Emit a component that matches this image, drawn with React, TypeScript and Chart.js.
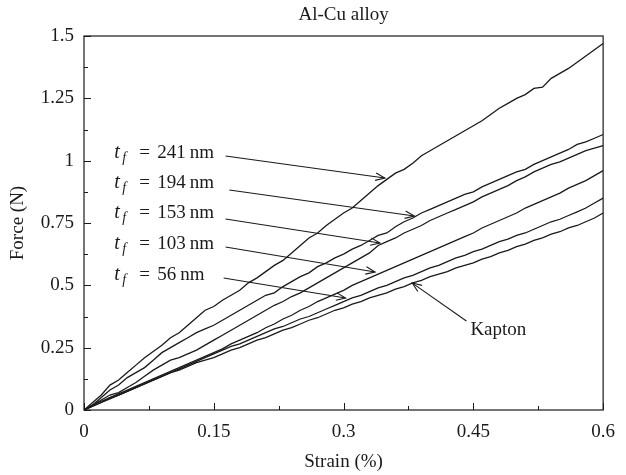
import React, { useEffect, useRef } from 'react';
import { Chart, registerables } from 'chart.js';

Chart.register(...registerables);

const FONT = "'Liberation Serif', 'Times New Roman', serif";
const INK = '#1a1a1a';

// Strain (%) sample positions
const strain = [
  0, 0.01, 0.02, 0.03, 0.04, 0.05, 0.06, 0.07, 0.08, 0.09,
  0.1, 0.11, 0.12, 0.13, 0.14, 0.15, 0.16, 0.17, 0.18, 0.19,
  0.2, 0.21, 0.22, 0.23, 0.24, 0.25, 0.26, 0.27, 0.28, 0.29,
  0.3, 0.31, 0.32, 0.33, 0.34, 0.35, 0.36, 0.37, 0.38, 0.39,
  0.4, 0.41, 0.42, 0.43, 0.44, 0.45, 0.46, 0.47, 0.48, 0.49,
  0.5, 0.51, 0.52, 0.53, 0.54, 0.55, 0.56, 0.57, 0.58, 0.59,
  0.6,
];

// Force (N) for each film thickness
const force241 = [
  0, 0.03, 0.06, 0.1, 0.12, 0.15, 0.18, 0.21, 0.235, 0.26,
  0.29, 0.31, 0.34, 0.37, 0.4, 0.415, 0.44, 0.46, 0.48, 0.51,
  0.53, 0.555, 0.58, 0.6, 0.63, 0.66, 0.69, 0.71, 0.74, 0.765,
  0.79, 0.81, 0.84, 0.87, 0.9, 0.925, 0.95, 0.965, 0.99, 1.02,
  1.04, 1.06, 1.08, 1.1, 1.12, 1.14, 1.16, 1.185, 1.21, 1.23,
  1.25, 1.265, 1.29, 1.295, 1.33, 1.35, 1.37, 1.395, 1.42, 1.445,
  1.47,
];
const force194 = [
  0, 0.02, 0.05, 0.08, 0.1, 0.13, 0.15, 0.17, 0.2, 0.23,
  0.25, 0.27, 0.29, 0.31, 0.325, 0.34, 0.36, 0.38, 0.4, 0.42,
  0.44, 0.46, 0.47, 0.495, 0.515, 0.535, 0.55, 0.575, 0.59, 0.61,
  0.625, 0.645, 0.66, 0.68, 0.7, 0.71, 0.735, 0.755, 0.77, 0.79,
  0.805, 0.82, 0.835, 0.85, 0.865, 0.875, 0.895, 0.91, 0.925, 0.94,
  0.955, 0.965, 0.985, 1.0, 1.015, 1.03, 1.045, 1.065, 1.075, 1.09,
  1.105,
];
const force153 = [
  0, 0.02, 0.04, 0.06, 0.07, 0.09, 0.11, 0.135, 0.16, 0.18,
  0.2, 0.21, 0.225, 0.24, 0.26, 0.28, 0.3, 0.32, 0.34, 0.36,
  0.38, 0.4, 0.42, 0.435, 0.455, 0.47, 0.49, 0.51, 0.53, 0.55,
  0.57, 0.59, 0.61, 0.63, 0.66, 0.675, 0.69, 0.71, 0.725, 0.74,
  0.76, 0.775, 0.79, 0.805, 0.82, 0.835, 0.855, 0.87, 0.885, 0.9,
  0.92, 0.935, 0.955, 0.97, 0.985, 0.995, 1.01, 1.025, 1.04, 1.05,
  1.06,
];
const force103 = [
  0, 0.015, 0.03, 0.05, 0.065, 0.08, 0.095, 0.11, 0.125, 0.14,
  0.155, 0.17, 0.185, 0.2, 0.215, 0.23, 0.245, 0.265, 0.28, 0.295,
  0.31, 0.33, 0.345, 0.365, 0.38, 0.4, 0.415, 0.435, 0.45, 0.465,
  0.48, 0.5, 0.515, 0.53, 0.545, 0.56, 0.575, 0.59, 0.605, 0.62,
  0.635, 0.65, 0.665, 0.68, 0.695, 0.71, 0.73, 0.745, 0.76, 0.775,
  0.79, 0.81, 0.825, 0.84, 0.855, 0.87, 0.89, 0.905, 0.92, 0.94,
  0.96,
];
const force56 = [
  0, 0.02, 0.035, 0.05, 0.06, 0.075, 0.09, 0.105, 0.12, 0.135,
  0.15, 0.165, 0.18, 0.195, 0.21, 0.225, 0.24, 0.255, 0.265, 0.28,
  0.295, 0.31, 0.325, 0.335, 0.35, 0.365, 0.375, 0.39, 0.405, 0.42,
  0.435, 0.45, 0.46, 0.475, 0.49, 0.5, 0.515, 0.53, 0.54, 0.555,
  0.57, 0.58, 0.595, 0.61, 0.62, 0.635, 0.645, 0.66, 0.675, 0.685,
  0.7, 0.71, 0.725, 0.74, 0.755, 0.765, 0.78, 0.795, 0.81, 0.83,
  0.85,
];
const forceKapton = [
  0, 0.015, 0.03, 0.045, 0.06, 0.075, 0.09, 0.105, 0.12, 0.135,
  0.15, 0.16, 0.175, 0.19, 0.2, 0.21, 0.225, 0.24, 0.25, 0.265,
  0.28, 0.29, 0.305, 0.32, 0.33, 0.345, 0.36, 0.37, 0.385, 0.4,
  0.41, 0.425, 0.435, 0.45, 0.46, 0.47, 0.485, 0.495, 0.51, 0.52,
  0.535, 0.545, 0.555, 0.57, 0.58, 0.59, 0.605, 0.615, 0.63, 0.64,
  0.655, 0.665, 0.68, 0.69, 0.705, 0.715, 0.73, 0.74, 0.755, 0.77,
  0.79,
];

const seriesNames = ['241 nm', '194 nm', '153 nm', '103 nm', '56 nm', 'Kapton'];
const seriesValues = [force241, force194, force153, force103, force56, forceKapton];

// Axis ticks
const xTicks = [0, 0.15, 0.3, 0.45, 0.6];
const xMinorTicks = [0.075, 0.225, 0.375, 0.525];
const yTicks = [0, 0.25, 0.5, 0.75, 1, 1.25, 1.5];
const yMinorTicks = [0.125, 0.375, 0.625, 0.875, 1.125, 1.375];

// Annotation labels (in data units: strain, force)
const tfNumbers = ['241', '194', '153', '103', '56'];
const tfLabelAt = [
  [0.035, 1.031],
  [0.035, 0.911],
  [0.035, 0.79],
  [0.035, 0.666],
  [0.035, 0.542],
];
const tfArrowFrom = [
  [0.1636, 1.019],
  [0.168, 0.8825],
  [0.1636, 0.766],
  [0.1636, 0.654],
  [0.1614, 0.5295],
];
const tfArrowTo = [
  [0.3477, 0.9306],
  [0.3818, 0.778],
  [0.342, 0.67],
  [0.3364, 0.5535],
  [0.3023, 0.449],
];
const kaptonLabelAt = [0.4466, 0.321];
const kaptonArrowFrom = [0.442, 0.357];
const kaptonArrowTo = [0.3795, 0.509];

const titleText = 'Al-Cu alloy';
const xTitle = 'Strain (%)';
const yTitle = 'Force (N)';

function fmt(v: number) {
  return String(Number(v.toFixed(3)));
}

function drawArrow(ctx: CanvasRenderingContext2D, x0: number, y0: number, x1: number, y1: number) {
  ctx.beginPath();
  ctx.moveTo(x0, y0);
  ctx.lineTo(x1, y1);
  ctx.stroke();
  const ang = Math.atan2(y1 - y0, x1 - x0);
  const len = 10;
  const spread = 0.38;
  ctx.beginPath();
  ctx.moveTo(x1 - len * Math.cos(ang - spread), y1 - len * Math.sin(ang - spread));
  ctx.lineTo(x1, y1);
  ctx.lineTo(x1 - len * Math.cos(ang + spread), y1 - len * Math.sin(ang + spread));
  ctx.stroke();
}

const decorPlugin = {
  id: 'decor',
  afterDraw(chart: any) {
    const { ctx, chartArea } = chart;
    const xs = chart.scales.x;
    const ys = chart.scales.y;
    const L = chartArea.left, R = chartArea.right, T = chartArea.top, B = chartArea.bottom;
    ctx.save();
    ctx.strokeStyle = INK;
    ctx.fillStyle = INK;
    ctx.lineWidth = 1.2;
    ctx.strokeRect(L, T, R - L, B - T);

    // inward ticks
    ctx.lineWidth = 1;
    ctx.beginPath();
    xTicks.forEach((v) => {
      const p = Math.round(xs.getPixelForValue(v)) + 0.5;
      ctx.moveTo(p, B); ctx.lineTo(p, B - 7);
    });
    xMinorTicks.forEach((v) => {
      const p = Math.round(xs.getPixelForValue(v)) + 0.5;
      ctx.moveTo(p, B); ctx.lineTo(p, B - 4);
    });
    yTicks.forEach((v) => {
      const p = Math.round(ys.getPixelForValue(v)) + 0.5;
      ctx.moveTo(L, p); ctx.lineTo(L + 7, p);
    });
    yMinorTicks.forEach((v) => {
      const p = Math.round(ys.getPixelForValue(v)) + 0.5;
      ctx.moveTo(L, p); ctx.lineTo(L + 4, p);
    });
    ctx.stroke();

    // titles
    ctx.textAlign = 'center';
    ctx.textBaseline = 'middle';
    ctx.font = `19px ${FONT}`;
    ctx.fillText(titleText, (L + R) / 2, T - 21);
    ctx.fillText(xTitle, (L + R) / 2, B + 52);
    ctx.save();
    ctx.translate(L - 66, (T + B) / 2);
    ctx.rotate(-Math.PI / 2);
    ctx.fillText(yTitle, 0, 0);
    ctx.restore();

    // t_f labels with arrows
    ctx.lineWidth = 1.1;
    tfNumbers.forEach((num, i) => {
      const px = xs.getPixelForValue(tfLabelAt[i][0]);
      const py = ys.getPixelForValue(tfLabelAt[i][1]);
      ctx.textAlign = 'left';
      ctx.textBaseline = 'middle';
      ctx.font = `italic 20px ${FONT}`;
      ctx.fillText('t', px, py);
      ctx.font = `italic 14px ${FONT}`;
      ctx.fillText('f', px + 8, py + 5);
      ctx.font = `19px ${FONT}`;
      ctx.fillText('=', px + 25, py);
      ctx.fillText(num, px + 43, py);
      const w = ctx.measureText(num).width;
      ctx.fillText('nm', px + 43 + w + 4, py);
      drawArrow(
        ctx,
        xs.getPixelForValue(tfArrowFrom[i][0]),
        ys.getPixelForValue(tfArrowFrom[i][1]),
        xs.getPixelForValue(tfArrowTo[i][0]),
        ys.getPixelForValue(tfArrowTo[i][1])
      );
    });

    ctx.textAlign = 'left';
    ctx.font = `19px ${FONT}`;
    ctx.fillText('Kapton', xs.getPixelForValue(kaptonLabelAt[0]), ys.getPixelForValue(kaptonLabelAt[1]));
    drawArrow(
      ctx,
      xs.getPixelForValue(kaptonArrowFrom[0]),
      ys.getPixelForValue(kaptonArrowFrom[1]),
      xs.getPixelForValue(kaptonArrowTo[0]),
      ys.getPixelForValue(kaptonArrowTo[1])
    );
    ctx.restore();
  },
};

export default function App() {
  const canvasRef = useRef<HTMLCanvasElement | null>(null);

  useEffect(() => {
    if (!canvasRef.current) return;
    const datasets = seriesNames.map((name, i) => ({
      label: name,
      data: strain.map((s, j) => ({ x: s, y: seriesValues[i][j] })),
      borderColor: INK,
      borderWidth: 1.3,
      pointRadius: 0,
      tension: 0,
      fill: false,
    }));
    const chart = new Chart(canvasRef.current, {
      type: 'line',
      data: { datasets },
      options: {
        animation: false,
        responsive: true,
        maintainAspectRatio: false,
        layout: { padding: { left: 0, top: 36, right: 14, bottom: 0 } },
        plugins: {
          legend: { display: false },
          title: { display: false },
          tooltip: { enabled: false },
        },
        scales: {
          x: {
            type: 'linear',
            min: 0,
            max: 0.6,
            afterBuildTicks: (scale: any) => {
              scale.ticks = xTicks.map((v) => ({ value: v }));
            },
            afterFit: (scale: any) => {
              scale.height = 65;
            },
            grid: { display: false, drawTicks: false },
            border: { display: false },
            ticks: {
              padding: 11,
              color: INK,
              font: { family: FONT, size: 19 },
              maxRotation: 0,
              callback: (v: any) => fmt(Number(v)),
            },
          },
          y: {
            type: 'linear',
            min: 0,
            max: 1.5,
            afterBuildTicks: (scale: any) => {
              scale.ticks = yTicks.map((v) => ({ value: v }));
            },
            afterFit: (scale: any) => {
              scale.width = 84;
            },
            grid: { display: false, drawTicks: false },
            border: { display: false },
            ticks: {
              padding: 10,
              color: INK,
              font: { family: FONT, size: 19 },
              callback: (v: any) => fmt(Number(v)),
            },
          },
        },
      },
      plugins: [decorPlugin],
    });
    return () => chart.destroy();
  }, []);

  return (
    <div style={{ position: 'absolute', left: 0, top: 0, width: 626, height: 475, background: '#fff' }}>
      <canvas ref={canvasRef} />
    </div>
  );
}
